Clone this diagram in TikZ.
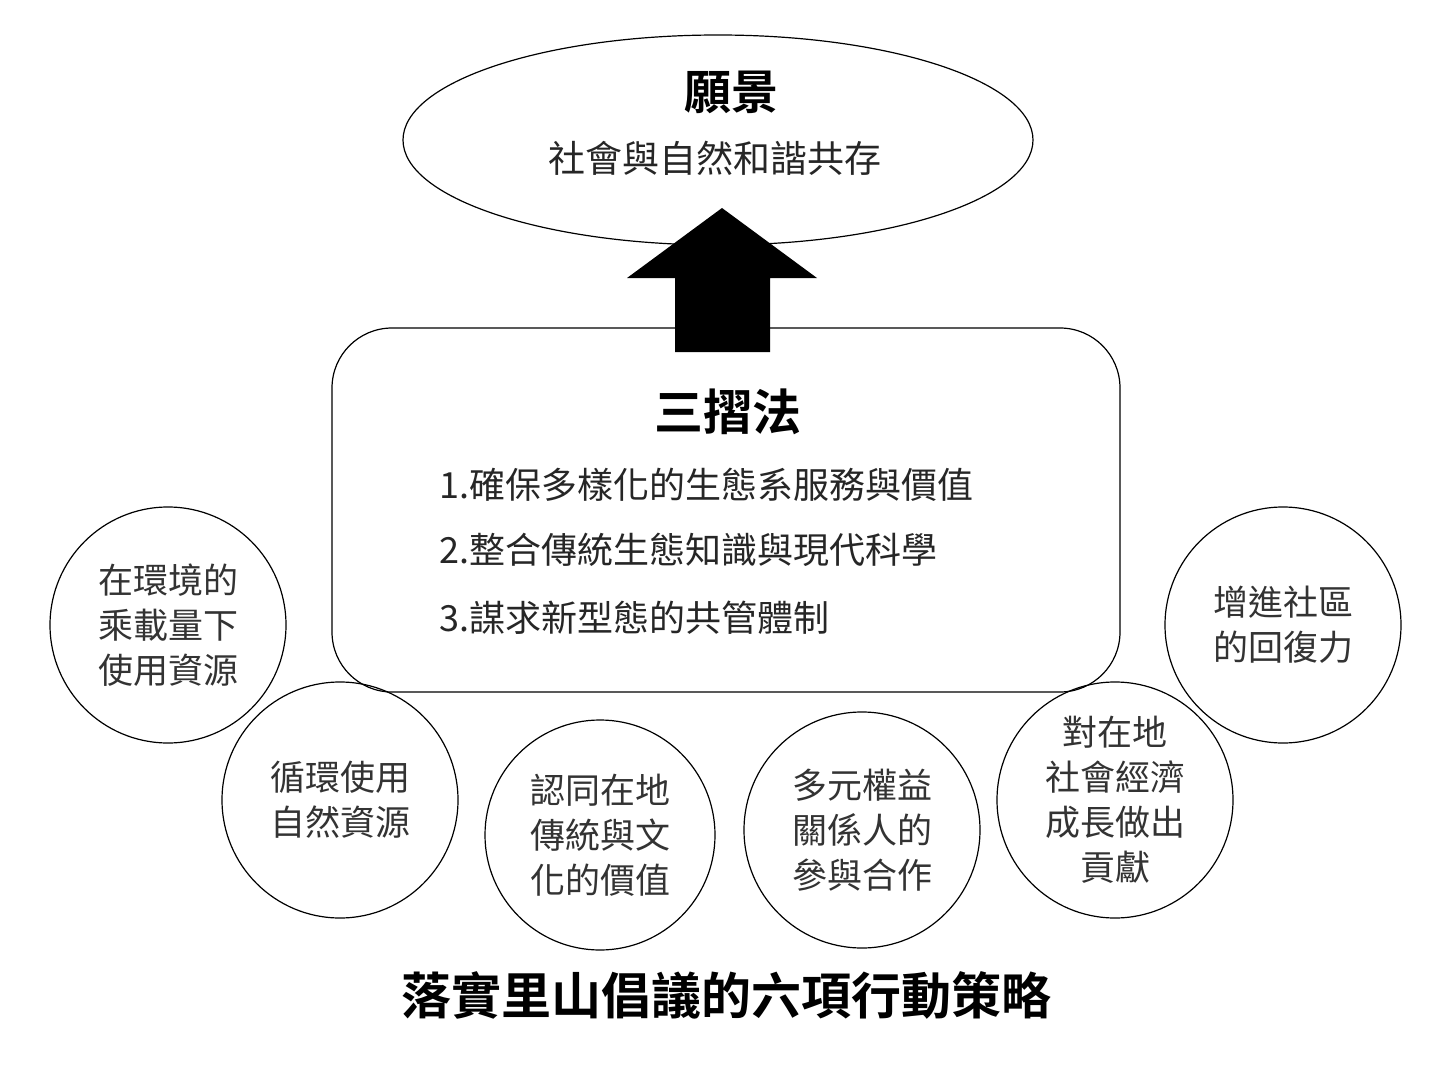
\documentclass[tikz,border=0pt]{standalone}
\usepackage{fontspec}
\setmainfont{Noto Sans CJK TC}
\newfontfamily\cjkb{Noto Sans CJK TC Bold}
\usetikzlibrary{shapes.geometric}
\begin{document}
\begin{tikzpicture}[x=1pt,y=-1pt,
  circ/.style={draw,circle,minimum size=236pt,inner sep=0pt,line width=1.2pt,align=center,font=\fontsize{35}{45}\selectfont,text=black!80},
  ln/.style={anchor=west,font=\fontsize{36}{40}\selectfont,text=black!85}]
\useasboundingbox (0,0) rectangle (1454,1086);
\fill[white] (0,0) rectangle (1454,1086);
\node[draw,ellipse,minimum width=630pt,minimum height=210pt,line width=1.2pt] (vis) at (718,140) {};
\node[font=\cjkb\fontsize{47}{50}\selectfont] (vt) at (731,92) {願景};
\node[font=\fontsize{37}{40}\selectfont,text=black!85] (vs) at (715,158) {社會與自然和諧共存};
\node[draw,rounded corners=60pt,minimum width=788pt,minimum height=364pt,line width=1.2pt] (box) at (726,510) {};
\fill (675,352) -- (675,278) -- (627,278) -- (722,208) -- (817,278) -- (770,278) -- (770,352) -- cycle;
\node[font=\cjkb\fontsize{49}{52}\selectfont] (bt) at (728,412) {三摺法};
\node[ln] (l1) at (436,485) {1.確保多樣化的生態系服務與價值};
\node[ln] (l2) at (436,550) {2.整合傳統生態知識與現代科學};
\node[ln] (l3) at (436,618) {3.謀求新型態的共管體制};
\node[circ] (c1) at (168,625) {在環境的\\乘載量下\\使用資源};
\node[circ] (c2) at (340,800) {循環使用\\自然資源};
\node[circ,minimum size=230pt] (c3) at (600,835) {認同在地\\傳統與文\\化的價值};
\node[circ] (c4) at (862,830) {多元權益\\關係人的\\參與合作};
\node[circ] (c5) at (1115,800) {對在地\\社會經濟\\成長做出\\貢獻};
\node[circ] (c6) at (1283,625) {增進社區\\的回復力};
\node[font=\cjkb\fontsize{50}{54}\selectfont] (ft) at (726,995) {落實里山倡議的六項行動策略};
\end{tikzpicture}
\end{document}
